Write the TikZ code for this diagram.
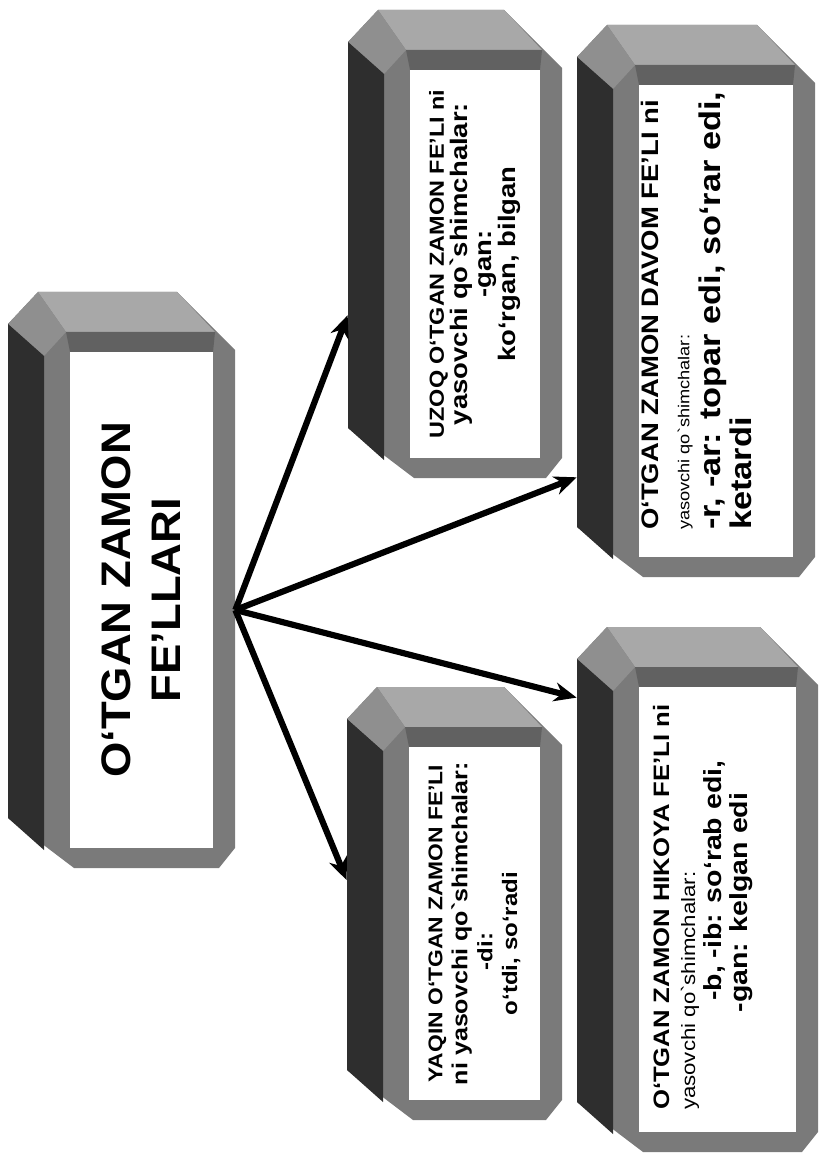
\documentclass[tikz,border=0pt]{standalone}
\usepackage{fontspec}
\newfontfamily\uzfont{Liberation Sans}
\usetikzlibrary{arrows.meta, calc}

\begin{document}
\begin{tikzpicture}[x=0.02cm, y=-0.02cm,
        shell/.style={fill=black!52},
        topface/.style={fill=black!34},
        bevel/.style={fill=black!44},
        rim/.style={fill=black!62},
        sideface/.style={fill=black!82},
        outer/.style={inner sep=0pt, draw=none},
        face/.style={fill=white, inner sep=0pt, draw=none},
        txt/.style={rotate=90, xscale=#1, inner sep=0pt},
        txt/.default=1.15,
        arr/.style={-{Stealth[length=4.5mm, width=3.8mm]}, line width=3.5pt}
    ]
    \useasboundingbox (0,0) rectangle (821,1158);
    \newcommand{\sz}[2]{{\fontsize{#1}{#1}\selectfont #2}}
    \newcommand{\pijl}{edge[arr]}
    % box: name, left, top, right, bottom (px)
    \newcommand{\blok}[5]{%
        \fill[shell] ({#2},{#3+32}) -- ({#2+30},{#3}) -- ({#4-58},{#3}) -- ({#4},{#3+58})
            -- ({#4},{#5-20}) -- ({#4-16},{#5}) -- ({#2+66},{#5}) -- ({#2},{#5-50}) -- cycle;
        \fill[topface] ({#2+30},{#3}) -- ({#4-58},{#3}) -- ({#4-20},{#3+40}) -- ({#2+58},{#3+40}) -- cycle;
        \fill[rim] ({#2+58},{#3+40}) -- ({#4-20},{#3+40}) -- ({#4-22},{#3+60}) -- ({#2+62},{#3+60}) -- cycle;
        \fill[bevel] ({#2},{#3+32}) -- ({#2+30},{#3}) -- ({#2+58},{#3+40}) -- ({#2+36},{#3+64}) -- cycle;
        \fill[sideface] ({#2},{#3+32}) -- ({#2+36},{#3+64}) -- ({#2+36},{#5-18}) -- ({#2},{#5-50}) -- cycle;
        \node[outer, minimum width={(#4-#2)*0.02cm}, minimum height={(#5-#3)*0.02cm}] (#1)
            at ({(#2+#4)/2},{(#3+#5)/2}) {};
        \node[face, minimum width={(#4-#2-84)*0.02cm}, minimum height={(#5-#3-80)*0.02cm}] (#1-face)
            at ({(#2+#4+40)/2},{(#3+#5+40)/2}) {};
    }

    \blok{main}{8}{292}{235}{868}
    \blok{uzoq}{348}{10}{562}{478}
    \blok{davom}{577}{25}{815}{577}
    \blok{yaqin}{347}{687}{562}{1120}
    \blok{hikoya}{577}{627}{818}{1152}

    \node[txt=1.1, align=center, font={\uzfont\bfseries\fontsize{23.5}{28.5}\selectfont}] (main-txt)
        at (main-face) {O‘TGAN ZAMON\\FE’LLARI};
    \node[txt, align=center, font={\uzfont\bfseries\fontsize{13.6}{13.7}\selectfont}] (uzoq-txt)
        at (uzoq-face) {\sz{11.6}{UZOQ O‘TGAN ZAMON FE’LI ni}\\
        yasovchi qo`shimchalar:\\-gan:\\ko‘rgan, bilgan};
    \node[txt, align=left, anchor=north west, font={\uzfont\bfseries\fontsize{13.6}{17.6}\selectfont}] (davom-txt)
        at ($(davom-face.south west)+(2,-27)$) {O‘TGAN ZAMON DAVOM FE’LI ni\\
        \sz{9}{\mdseries yasovchi qo`shimchalar:}\\
        \sz{17}{-r, -ar: topar edi, so‘rar edi,}\\\sz{17}{ketardi}};
    \node[txt, align=center, font={\uzfont\bfseries\fontsize{11.9}{14.2}\selectfont}] (yaqin-txt)
        at (yaqin-face) {\sz{11.3}{YAQIN O‘TGAN ZAMON FE’LI}\\\sz{12.4}{ni yasovchi qo`shimchalar:}\\
        -di:\hspace*{0.97cm}\mbox{}\\o‘tdi, so‘radi\hspace*{0.7cm}\mbox{}};
    \node[txt, align=left, anchor=north west, font={\uzfont\bfseries\fontsize{12.7}{14.8}\selectfont}] (hikoya-txt)
        at ($(hikoya-face.south west)+(14,-22)$) {O‘TGAN ZAMON HIKOYA FE’LI ni\\
        \sz{11}{\mdseries yasovchi qo`shimchalar:}\\
        \hspace*{1.9cm}\sz{14.1}{-b, -ib: so‘rab edi,}\\
        \hspace*{1.7cm}\sz{14.1}{-gan: kelgan edi}};

    \coordinate (hub) at ($(main.north east)!0.552!(main.south east)$);
    \coordinate (uzoq-in) at ($(uzoq.north west)!0.652!(uzoq.south west)$);
    \coordinate (davom-in) at ($(davom.north west)!0.819!(davom.south west)$);
    \coordinate (hikoya-in) at ($(hikoya.north west)!0.135!(hikoya.south west)$);
    \coordinate (yaqin-in) at ($(yaqin.north west)!0.446!(yaqin.south west)$);
    \draw (hub) \pijl (uzoq-in) \pijl (davom-in) \pijl (hikoya-in) \pijl (yaqin-in);
\end{tikzpicture}
\end{document}
